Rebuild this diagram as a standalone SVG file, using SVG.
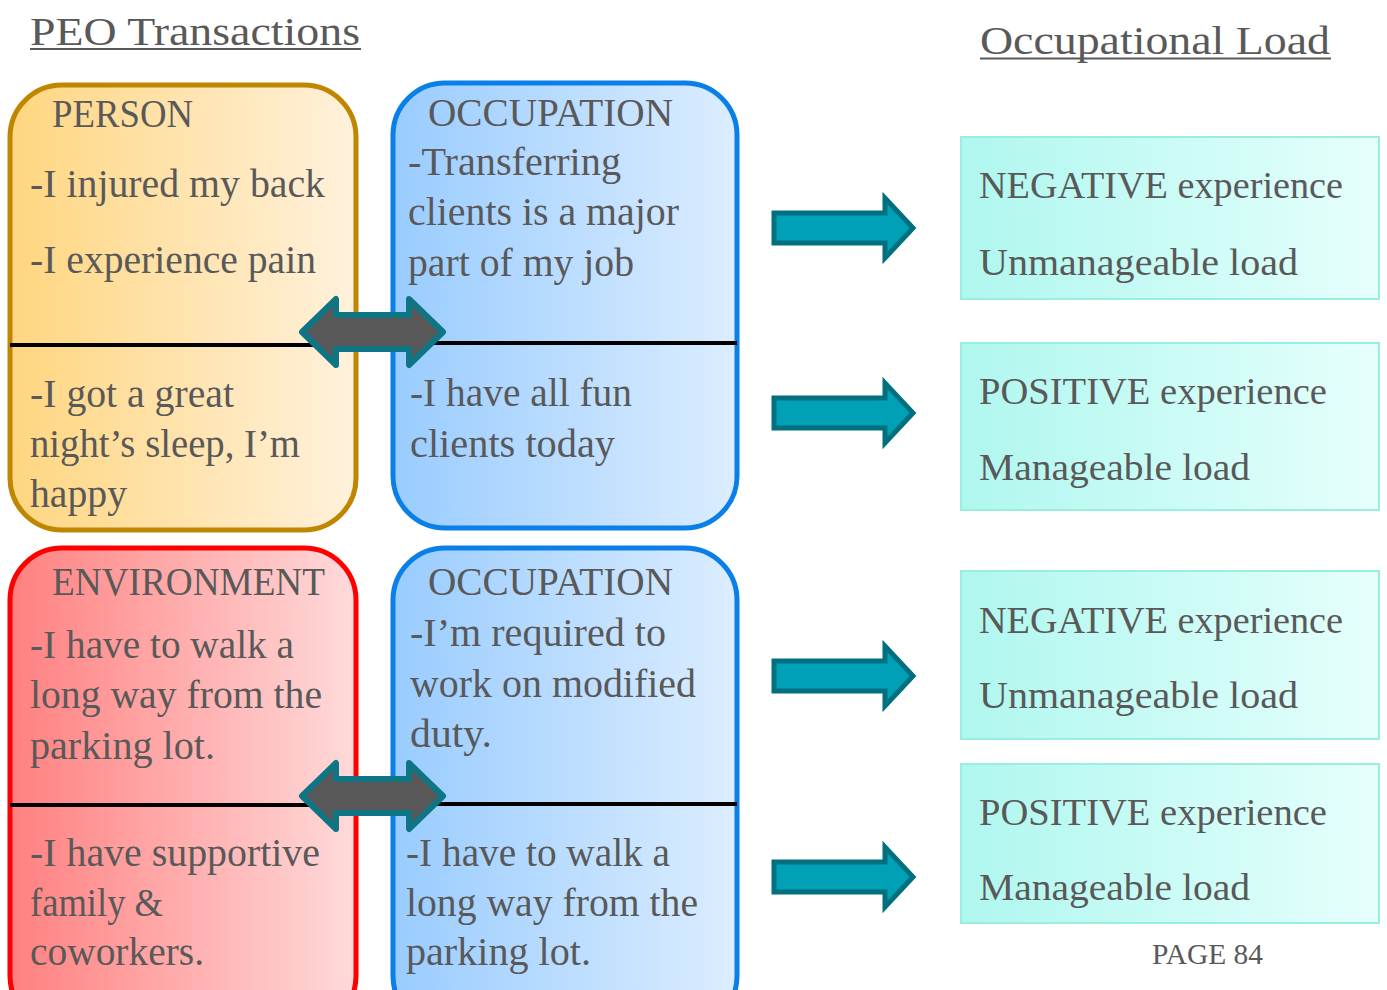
<svg xmlns="http://www.w3.org/2000/svg" width="1387" height="990" viewBox="0 0 1387 990">
  <style>
    text { font-family: "Liberation Serif", "DejaVu Serif", serif; fill: #595959; }
    .t { font-size: 39px; }
    .h { font-size: 41px; }
    .r { font-size: 38px; }
    .sep { stroke: #000; stroke-width: 4; }
    .rbox { fill: url(#gCyan); stroke: #99EEDD; stroke-width: 2; }
    .rarrow { fill: #00A0B6; stroke: #00707F; stroke-width: 5; stroke-linejoin: miter; }
    .darrow { fill: #595959; stroke: #0E7585; stroke-width: 6; stroke-linejoin: round; }
  </style>
  <defs>
    <linearGradient id="gGold" x1="0" y1="0" x2="1" y2="0">
      <stop offset="0" stop-color="#FFD680"/>
      <stop offset="1" stop-color="#FFF1DC"/>
    </linearGradient>
    <linearGradient id="gBlue" x1="0" y1="0" x2="1" y2="0">
      <stop offset="0" stop-color="#99CCFF"/>
      <stop offset="1" stop-color="#DCEDFF"/>
    </linearGradient>
    <linearGradient id="gRed" x1="0" y1="0" x2="1" y2="0">
      <stop offset="0" stop-color="#FF8080"/>
      <stop offset="1" stop-color="#FFDADA"/>
    </linearGradient>
    <linearGradient id="gCyan" x1="0" y1="0" x2="1" y2="0">
      <stop offset="0" stop-color="#AFF7EF"/>
      <stop offset="1" stop-color="#E6FFFC"/>
    </linearGradient>
  </defs>

  <rect width="1387" height="990" fill="#fff"/>

  <!-- headings -->
  <g id="title-left">
    <text x="30" y="45" class="h" textLength="330" lengthAdjust="spacingAndGlyphs">PEO Transactions</text>
    <line x1="30" y1="49" x2="361" y2="49" stroke="#595959" stroke-width="2"/>
  </g>
  <g id="title-right">
    <text x="980" y="54" class="h" textLength="350" lengthAdjust="spacingAndGlyphs">Occupational Load</text>
    <line x1="980" y1="58.5" x2="1331" y2="58.5" stroke="#595959" stroke-width="2"/>
  </g>

  <!-- person -->
  <g id="person">
    <rect x="10" y="85" width="346" height="445" rx="52" fill="url(#gGold)" stroke="#BF8600" stroke-width="5"/>
    <line x1="10" y1="345" x2="356" y2="345" class="sep"/>
    <text x="52" y="127" class="t" textLength="141" lengthAdjust="spacingAndGlyphs">PERSON</text>
    <text x="30" y="197" class="t" textLength="295" lengthAdjust="spacingAndGlyphs">-I injured my back</text>
    <text x="30" y="273" class="t" textLength="286" lengthAdjust="spacingAndGlyphs">-I experience pain</text>
    <text x="30" y="407" class="t" textLength="204" lengthAdjust="spacingAndGlyphs">-I got a great</text>
    <text x="30" y="457" class="t" textLength="270" lengthAdjust="spacingAndGlyphs">night’s sleep, I’m</text>
    <text x="30" y="507" class="t" textLength="97" lengthAdjust="spacingAndGlyphs">happy</text>
  </g>

  <!-- occupation (top) -->
  <g id="occupation-top">
    <rect x="393" y="83" width="344" height="445" rx="52" fill="url(#gBlue)" stroke="#0A7FE8" stroke-width="5"/>
    <line x1="393" y1="343" x2="737" y2="343" class="sep"/>
    <text x="428" y="126" class="t" textLength="245" lengthAdjust="spacingAndGlyphs">OCCUPATION</text>
    <text x="408" y="175" class="t" textLength="213" lengthAdjust="spacingAndGlyphs">-Transferring</text>
    <text x="408" y="225" class="t" textLength="271" lengthAdjust="spacingAndGlyphs">clients is a major</text>
    <text x="408" y="276" class="t" textLength="226" lengthAdjust="spacingAndGlyphs">part of my job</text>
    <text x="410" y="406" class="t" textLength="222" lengthAdjust="spacingAndGlyphs">-I have all fun</text>
    <text x="410" y="457" class="t" textLength="205" lengthAdjust="spacingAndGlyphs">clients today</text>
  </g>

  <!-- environment -->
  <g id="environment">
    <rect x="10" y="548" width="346" height="480" rx="52" fill="url(#gRed)" stroke="#FF0000" stroke-width="5"/>
    <line x1="10" y1="805" x2="356" y2="805" class="sep"/>
    <text x="52" y="595" class="t" textLength="273" lengthAdjust="spacingAndGlyphs">ENVIRONMENT</text>
    <text x="30" y="658" class="t" textLength="264" lengthAdjust="spacingAndGlyphs">-I have to walk a</text>
    <text x="30" y="708" class="t" textLength="292" lengthAdjust="spacingAndGlyphs">long way from the</text>
    <text x="30" y="759" class="t" textLength="185" lengthAdjust="spacingAndGlyphs">parking lot.</text>
    <text x="30" y="866" class="t" textLength="290" lengthAdjust="spacingAndGlyphs">-I have supportive</text>
    <text x="30" y="916" class="t" textLength="133" lengthAdjust="spacingAndGlyphs">family &amp;</text>
    <text x="30" y="965" class="t" textLength="174" lengthAdjust="spacingAndGlyphs">coworkers.</text>
  </g>

  <!-- occupation (bottom) -->
  <g id="occupation-bottom">
    <rect x="393" y="548" width="344" height="480" rx="52" fill="url(#gBlue)" stroke="#0A7FE8" stroke-width="5"/>
    <line x1="393" y1="804" x2="737" y2="804" class="sep"/>
    <text x="428" y="595" class="t" textLength="245" lengthAdjust="spacingAndGlyphs">OCCUPATION</text>
    <text x="410" y="646" class="t" textLength="256" lengthAdjust="spacingAndGlyphs">-I’m required to</text>
    <text x="410" y="697" class="t" textLength="286" lengthAdjust="spacingAndGlyphs">work on modified</text>
    <text x="410" y="747" class="t" textLength="82" lengthAdjust="spacingAndGlyphs">duty.</text>
    <text x="406" y="866" class="t" textLength="264" lengthAdjust="spacingAndGlyphs">-I have to walk a</text>
    <text x="406" y="916" class="t" textLength="292" lengthAdjust="spacingAndGlyphs">long way from the</text>
    <text x="406" y="965" class="t" textLength="185" lengthAdjust="spacingAndGlyphs">parking lot.</text>
  </g>

  <!-- outcome boxes -->
  <g id="outcome-1">
    <rect x="961" y="137" width="418" height="162" class="rbox"/>
    <text x="979" y="198" class="r" textLength="364" lengthAdjust="spacingAndGlyphs">NEGATIVE experience</text>
    <text x="979" y="275" class="r" textLength="319" lengthAdjust="spacingAndGlyphs">Unmanageable load</text>
  </g>
  <g id="outcome-2">
    <rect x="961" y="343" width="418" height="167" class="rbox"/>
    <text x="979" y="404" class="r" textLength="348" lengthAdjust="spacingAndGlyphs">POSITIVE experience</text>
    <text x="979" y="480" class="r" textLength="271" lengthAdjust="spacingAndGlyphs">Manageable load</text>
  </g>
  <g id="outcome-3">
    <rect x="961" y="571" width="418" height="168" class="rbox"/>
    <text x="979" y="633" class="r" textLength="364" lengthAdjust="spacingAndGlyphs">NEGATIVE experience</text>
    <text x="979" y="708" class="r" textLength="319" lengthAdjust="spacingAndGlyphs">Unmanageable load</text>
  </g>
  <g id="outcome-4">
    <rect x="961" y="764" width="418" height="159" class="rbox"/>
    <text x="979" y="825" class="r" textLength="348" lengthAdjust="spacingAndGlyphs">POSITIVE experience</text>
    <text x="979" y="900" class="r" textLength="271" lengthAdjust="spacingAndGlyphs">Manageable load</text>
  </g>

  <g id="page-number">
    <text x="1152" y="964" font-size="29" textLength="111" lengthAdjust="spacingAndGlyphs">PAGE 84</text>
  </g>

  <!-- connectors -->
  <g id="connectors">
    <polygon class="darrow" points="302,332 336,299 336,315 409,315 409,299 443,332 409,365 409,349 336,349 336,365"/>
    <polygon class="darrow" points="302,796 336,763 336,779 409,779 409,763 443,796 409,829 409,813 336,813 336,829"/>
    <polygon class="rarrow" points="774,213 885,213 885,198 913,228 885,258 885,243 774,243"/>
    <polygon class="rarrow" points="774,398 885,398 885,383 913,413 885,443 885,428 774,428"/>
    <polygon class="rarrow" points="774,661 885,661 885,646 913,676 885,706 885,691 774,691"/>
    <polygon class="rarrow" points="774,862 885,862 885,847 913,877 885,907 885,892 774,892"/>
  </g>
</svg>
